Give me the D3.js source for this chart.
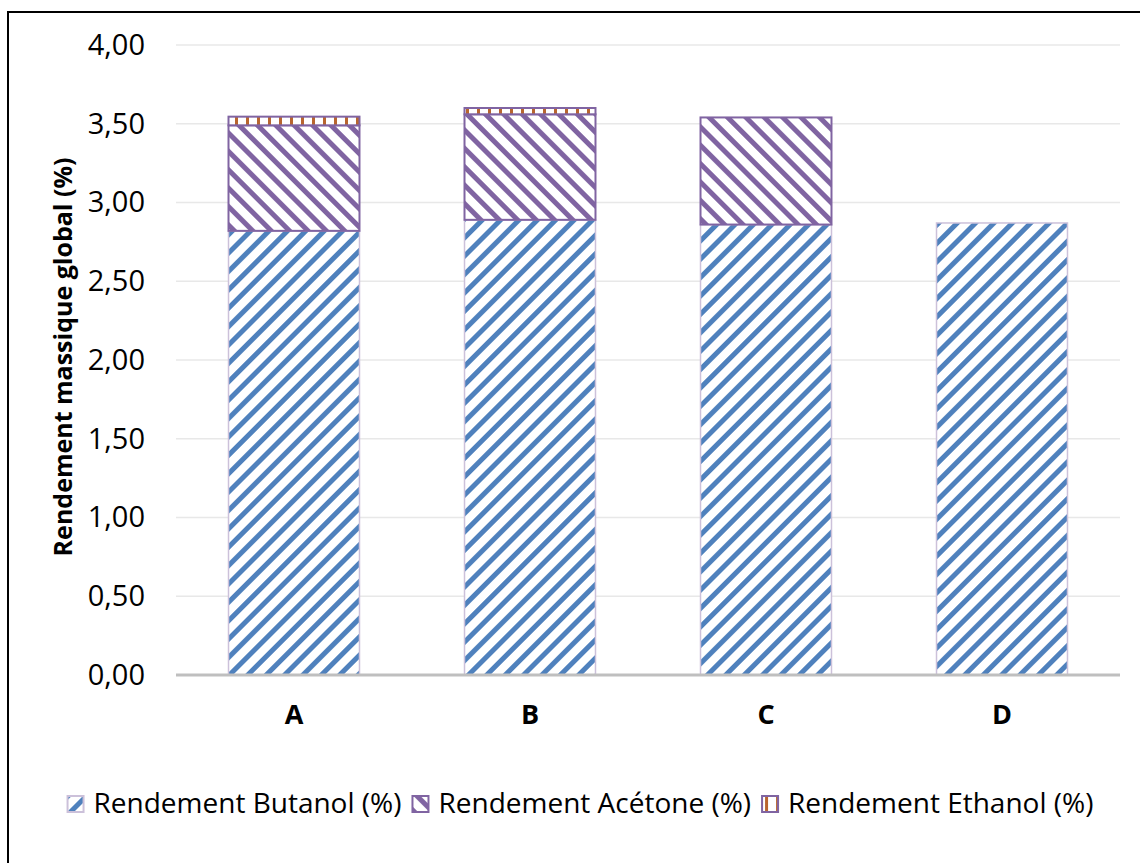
<!DOCTYPE html>
<html>

<head>
	<script src="https://d3js.org/d3.v7.min.js"></script>
	<title>Rendement massique global</title>
	<style>
		body {
			margin: 0;
			background: #fff;
			font-family: "Open Sans", sans-serif;
		}
	</style>
</head>

<body>
	<div id="chart"></div>

	<script>
		// data
		const categories = ["A", "B", "C", "D"];
		const butanol = [2.82, 2.89, 2.86, 2.87];
		const acetone = [0.67, 0.67, 0.68, 0];
		const ethanol = [0.055, 0.04, 0, 0];
		const yTicks = [0, 0.5, 1, 1.5, 2, 2.5, 3, 3.5, 4];
		const seriesNames = ["Rendement Butanol (%)", "Rendement Acétone (%)", "Rendement Ethanol (%)"];

		const W = 1140, H = 863;
		const plot = { left: 176, right: 1120, top: 45, bottom: 675 };

		const svg = d3.select("#chart")
			.append("svg")
			.attr("width", W)
			.attr("height", H);

		// hatch patterns (Excel style)
		const defs = svg.append("defs");
		function diag(id, color, angle) {
			const p = defs.append("pattern")
				.attr("id", id)
				.attr("patternUnits", "userSpaceOnUse")
				.attr("width", 13)
				.attr("height", 13)
				.attr("patternTransform", `rotate(${angle})`);
			p.append("rect").attr("width", 13).attr("height", 13).attr("fill", "#fff");
			p.append("rect").attr("width", 5).attr("height", 13).attr("fill", color);
		}
		diag("hatchBut", "#4F81BD", 45);
		diag("hatchAce", "#8064A2", -45);
		const pv = defs.append("pattern")
			.attr("id", "hatchEth")
			.attr("patternUnits", "userSpaceOnUse")
			.attr("width", 11)
			.attr("height", 11);
		pv.append("rect").attr("width", 11).attr("height", 11).attr("fill", "#fff");
		pv.append("rect").attr("x", 4).attr("width", 3).attr("height", 11).attr("fill", "#B8652F");

		// outer frame (cut by the window on right/bottom)
		svg.append("rect")
			.attr("x", 8).attr("y", 12)
			.attr("width", 1200).attr("height", 900)
			.attr("fill", "none")
			.attr("stroke", "#000")
			.attr("stroke-width", 2);

		const x = d3.scaleBand()
			.domain(categories)
			.range([plot.left, plot.right])
			.paddingInner(0.445)
			.paddingOuter(0.2225);

		const y = d3.scaleLinear()
			.domain([0, 4])
			.range([plot.bottom, plot.top]);

		// gridlines
		svg.append("g")
			.selectAll("line")
			.data(yTicks.slice(1))
			.enter()
			.append("line")
			.attr("x1", plot.left)
			.attr("x2", plot.right)
			.attr("y1", d => y(d))
			.attr("y2", d => y(d))
			.attr("stroke", "#E8E8E8")
			.attr("stroke-width", 1.5);

		// y tick labels
		const yAxis = svg.append("g")
			.attr("transform", `translate(${plot.left},0)`)
			.call(d3.axisLeft(y).tickValues(yTicks).tickSize(0).tickPadding(31)
				.tickFormat(d => d3.format(".2f")(d).replace(".", ",")));
		yAxis.select(".domain").remove();
		yAxis.selectAll("text")
			.attr("font-family", "Open Sans")
			.attr("font-size", 29)
			.attr("fill", "#000");

		// stacked bars
		const rows = categories.map((c, i) => ({ cat: c, b: butanol[i], a: acetone[i], e: ethanol[i] }));
		const stack = d3.stack().keys(["b", "a", "e"])(rows);
		const fills = ["url(#hatchBut)", "url(#hatchAce)", "url(#hatchEth)"];
		const strokes = ["#CCC1DA", "#8064A2", "#8064A2"];

		stack.forEach((layer, k) => {
			svg.append("g")
				.selectAll("rect")
				.data(layer.filter(d => d[1] - d[0] > 0))
				.enter()
				.append("rect")
				.attr("x", d => x(d.data.cat))
				.attr("y", d => y(d[1]))
				.attr("width", x.bandwidth())
				.attr("height", d => y(d[0]) - y(d[1]))
				.attr("fill", fills[k])
				.attr("stroke", strokes[k])
				.attr("stroke-width", k === 0 ? 1.5 : 2);
		});

		// baseline
		svg.append("line")
			.attr("x1", plot.left)
			.attr("x2", plot.right)
			.attr("y1", y(0))
			.attr("y2", y(0))
			.attr("stroke", "#BFBFBF")
			.attr("stroke-width", 3);

		// category labels
		const xAxis = svg.append("g")
			.attr("transform", `translate(0,${plot.bottom})`)
			.call(d3.axisBottom(x).tickSize(0).tickPadding(30));
		xAxis.select(".domain").remove();
		xAxis.selectAll("text")
			.attr("font-family", "Open Sans")
			.attr("font-size", 27)
			.attr("font-weight", "bold")
			.attr("fill", "#000");

		// y axis title
		svg.append("text")
			.attr("transform", "rotate(-90)")
			.attr("x", -357)
			.attr("y", 72)
			.attr("text-anchor", "middle")
			.attr("font-family", "Open Sans")
			.attr("font-size", 25)
			.attr("font-weight", "bold")
			.text("Rendement massique global (%)");

		// legend
		const legend = svg.append("g");
		let lx = 0;
		seriesNames.forEach((name, k) => {
			const item = legend.append("g").attr("transform", `translate(${lx},0)`);
			item.append("rect")
				.attr("x", 1).attr("y", 2)
				.attr("width", 16).attr("height", 16)
				.attr("fill", fills[k])
				.attr("stroke", strokes[k])
				.attr("stroke-width", 2);
			const t = item.append("text")
				.attr("x", 27)
				.attr("y", 19)
				.attr("font-family", "Open Sans")
				.attr("font-size", 28)
				.attr("fill", "#000")
				.text(name);
			lx += 27 + t.node().getComputedTextLength() + 10;
		});
		const lw = lx - 10;
		legend.attr("transform", `translate(${580 - lw / 2},794)`);
	</script>
</body>

</html>
